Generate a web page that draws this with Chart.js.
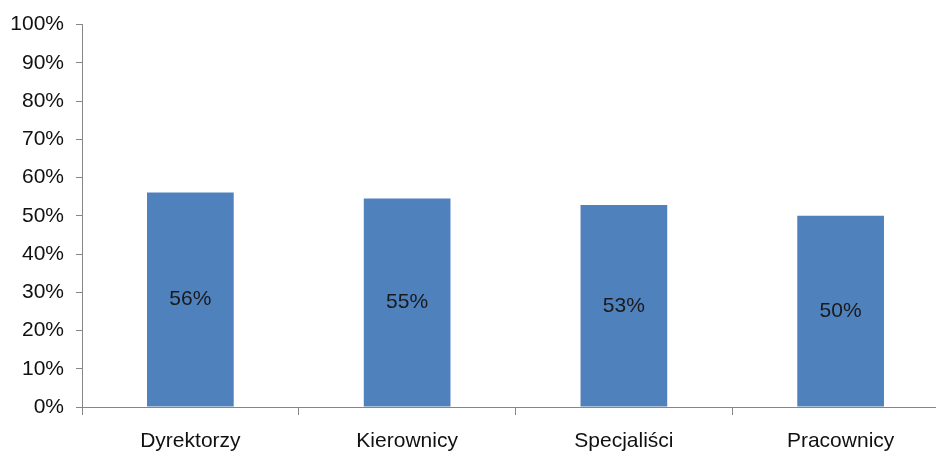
<!DOCTYPE html>
<html>
  <head>
    <meta charset="utf-8">
    <title>Wykres</title>
    <script src="https://cdn.jsdelivr.net/npm/chart.js"></script>
    <style>
      body { margin: 0; overflow: hidden; background: #fff; }
      #wrap { position: absolute; left: 0; top: 0; width: 960px; height: 452px; }
    </style>
  </head>
  <body>
    <div id="wrap"><canvas id="chart"></canvas></div>

    <script>
      // dane
      const categories = ["Dyrektorzy", "Kierownicy", "Specjaliści", "Pracownicy"];
      const values = [56.1, 54.5, 52.8, 50.0];
      const valueLabels = ["56%", "55%", "53%", "50%"];

      const axisColor = "#868686";
      const font = { family: "Arial, 'Liberation Sans', sans-serif", size: 21 };

      // napisy z wartościami na środku słupków
      const barLabels = {
        id: "barLabels",
        afterDatasetsDraw(chart) {
          const ctx = chart.ctx;
          const meta = chart.getDatasetMeta(0);
          ctx.save();
          ctx.font = "21px Arial, 'Liberation Sans', sans-serif";
          ctx.fillStyle = "#1a1a1a";
          ctx.textAlign = "center";
          ctx.textBaseline = "middle";
          meta.data.forEach((bar, i) => {
            const mid = (bar.y + bar.base) / 2;
            ctx.fillText(valueLabels[i], bar.x, mid);
          });
          ctx.restore();
        },
      };

      new Chart(document.getElementById("chart"), {
        type: "bar",
        data: {
          labels: categories,
          datasets: [
            {
              data: values,
              backgroundColor: "#4F81BD",
              categoryPercentage: 1,
              barPercentage: 0.4,
            },
          ],
        },
        options: {
          responsive: true,
          maintainAspectRatio: false,
          animation: false,
          layout: { padding: { top: 23, right: 11, left: 0, bottom: 0 } },
          plugins: { legend: { display: false }, tooltip: { enabled: false } },
          scales: {
            x: {
              grid: {
                display: true,
                drawOnChartArea: false,
                color: axisColor,
                tickLength: 8,
                offset: true,
              },
              border: { color: axisColor },
              ticks: { color: "#111", font: font, padding: 14, maxRotation: 0 },
              afterFit(scale) { scale.height = 45; },
            },
            y: {
              min: 0,
              max: 100,
              grid: {
                drawOnChartArea: false,
                color: axisColor,
                tickLength: 6,
              },
              border: { color: axisColor },
              ticks: {
                stepSize: 10,
                color: "#111",
                font: font,
                padding: 12,
                callback: (v) => v + "%",
              },
              afterFit(scale) { scale.width = 82; },
            },
          },
        },
        plugins: [barLabels],
      });
    </script>
  </body>
</html>
